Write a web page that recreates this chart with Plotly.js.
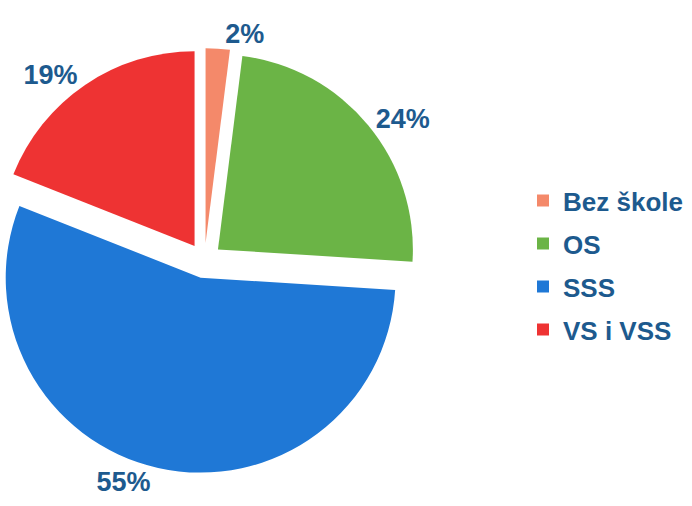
<!DOCTYPE html>
<html><head><meta charset="utf-8">
<script src="https://cdn.plot.ly/plotly-3.0.1.min.js"></script>
<style>html,body{margin:0;padding:0;background:#fff;overflow:hidden;width:692px;height:506px;}#chart{position:absolute;left:-8px;top:0;width:700px;height:506px;}</style>
</head><body><div id="chart"></div>
<script>
const categories = ["Bez škole", "OS", "SSS", "VS i VSS"];
const values = [2, 24, 55, 19];
const colors = ["#F4896A", "#6BB446", "#1F78D6", "#EE3333"];
const textColor = "#1D5A8E";

const trace = {
  type: "pie",
  labels: categories,
  values: values,
  sort: false,
  direction: "clockwise",
  rotation: 0,
  pull: [0.09, 0.09, 0.09, 0.09],
  marker: {colors: colors, line: {width: 0}},
  textinfo: "percent",
  texttemplate: "%{percent:.0%}",
  textposition: "outside",
  outsidetextfont: {family: "Liberation Sans, Arial, sans-serif", size: 27, color: textColor, weight: "bold"},
  domain: {x: [0, 0.607], y: [0.064, 0.906]},
  automargin: false,
  hoverinfo: "none"
};

const layout = {
  width: 700, height: 506,
  margin: {l: 0, r: 0, t: 0, b: 0},
  paper_bgcolor: "#fff",
  showlegend: true,
  legend: {
    x: 0.7586, y: 0.65, xanchor: "left", yanchor: "top",
    font: {family: "Liberation Sans, Arial, sans-serif", size: 26, color: textColor, weight: "bold"},
    itemwidth: 30
  }
};
Plotly.newPlot("chart", [trace], layout, {displayModeBar: false, staticPlot: true}).then(function (gd) {
  // wider spacing between legend entries, as in the reference
  const step = 43;
  const items = gd.querySelectorAll(".legend .traces");
  let y0 = null;
  items.forEach(function (g, i) {
    const m = /translate\(\s*([-\d.]+)[ ,]+([-\d.]+)\s*\)/.exec(g.getAttribute("transform") || "");
    if (m) {
      if (y0 === null) y0 = parseFloat(m[2]);
      g.setAttribute("transform", "translate(" + m[1] + "," + (y0 + i * step) + ")");
    }
  });
  gd.querySelectorAll(".legend .scrollbox, .legend").forEach(function (s) { s.removeAttribute("clip-path"); });
});
</script></body></html>
